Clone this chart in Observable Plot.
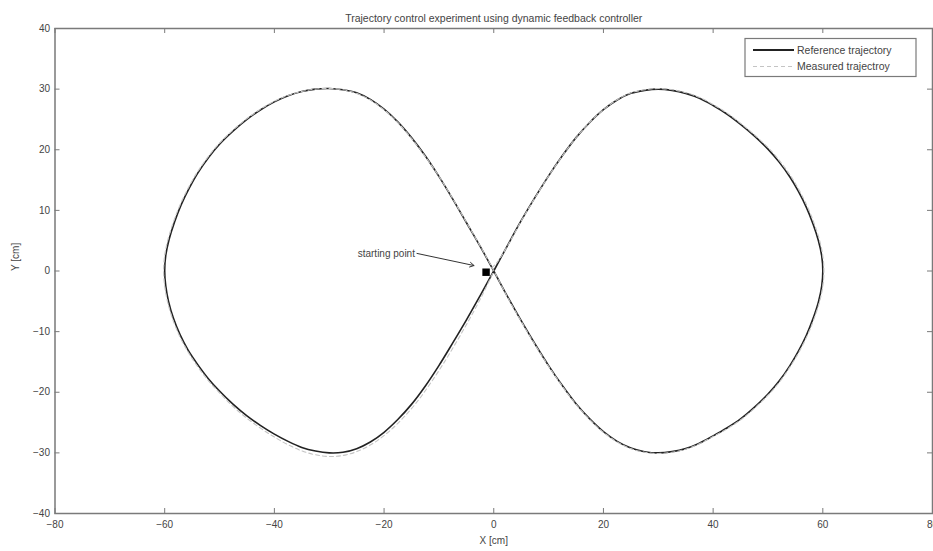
<!DOCTYPE html>
<html>
<head>
<meta charset="utf-8">
<script src="https://cdn.jsdelivr.net/npm/d3@7"></script>
<script src="https://cdn.jsdelivr.net/npm/@observablehq/plot@0.6"></script>
<style>
  html, body { margin: 0; padding: 0; background: #fff; }
  #chart svg { display: block; }
</style>
</head>
<body>
<div id="chart"></div>
<script>
// ---- data ----
const title = "Trajectory control experiment using dynamic feedback controller";
const xLabel = "X [cm]";
const yLabel = "Y [cm]";
const xTicks = [-80, -60, -40, -20, 0, 20, 40, 60, 80];
const yTicks = [-40, -30, -20, -10, 0, 10, 20, 30, 40];
const seriesNames = ["Reference trajectory", "Measured trajectroy"];

// reference trajectory (x, y) in cm, traced along the figure eight
const refX = [
  0, 2.5, 5, 7.5, 10, 12.5, 15, 17.5, 20, 22.5, 25, 27.5, 30,
  32.5, 35, 37.5, 40, 42.5, 45, 47.5, 50, 52, 54, 55.5, 57, 58.2, 59.2, 59.8, 60,
  59.8, 59.2, 58.2, 57, 55.5, 54, 52, 50, 47.5, 45, 42.5, 40, 37.5, 35, 32.5, 30,
  27.5, 25, 22.5, 20, 17.5, 15, 12.5, 10, 7.5, 5, 2.5, 0,
  -2.5, -5, -7.5, -10, -12.5, -15, -17.5, -20, -22.5, -25, -27.5, -30,
  -32.5, -35, -37.5, -40, -42.5, -45, -47.5, -50, -52, -54, -55.5, -57, -58.2, -59.2, -59.8, -60,
  -59.8, -59.3, -58.4, -57.2, -55.7, -54, -52, -50, -47.5, -45, -42.5, -40, -37.5, -35, -32.5, -30,
  -27.5, -25, -22.5, -20, -17.5, -15, -12.5, -10, -7.5, -5, -2.5, 0];
const refY = [
  0, 4.2, 8.3, 12.1, 15.7, 19.0, 22.0, 24.5, 26.6, 28.2, 29.3, 29.8, 30.0,
  29.8, 29.3, 28.5, 27.3, 25.9, 24.2, 22.3, 20.1, 18.0, 15.5, 13.2, 10.5, 7.8, 5.0, 2.5, 0,
  -2.5, -5.1, -7.9, -10.6, -13.3, -15.6, -18.2, -20.3, -22.5, -24.4, -25.9, -27.2, -28.4, -29.3, -29.8, -30.0,
  -29.8, -29.2, -28.1, -26.5, -24.4, -21.9, -18.9, -15.6, -12.0, -8.2, -4.2, 0,
  4.1, 8.0, 11.9, 15.6, 19.0, 22.0, 24.6, 26.7, 28.3, 29.4, 29.9, 30.1,
  30.0, 29.6, 28.9, 27.9, 26.6, 25.0, 23.1, 20.9, 18.7, 16.1, 13.7, 10.9, 8.1, 5.2, 2.6, 0,
  -2.5, -5.0, -7.8, -10.5, -13.1, -15.4, -17.8, -19.8, -22.0, -23.9, -25.5, -26.9, -28.1, -29.1, -29.7, -30.0,
  -29.9, -29.3, -28.2, -26.6, -24.5, -22.0, -19.0, -15.6, -11.9, -8.1, -4.1, 0];

// measured trajectory (x, y) in cm, starting at the marked starting point
const measX = [
  -1.4, 0.4, 2.6, 5.1, 7.6, 10.1, 12.6, 15.1, 17.6, 20.1, 22.6, 25.1, 27.6, 30.1,
  32.6, 35.1, 37.6, 40.1, 42.6, 45.1, 47.6, 50.2, 52.2, 54.2, 55.7, 57.2, 58.4, 59.4, 60.0, 60.2,
  60.0, 59.4, 58.4, 57.2, 55.7, 54.1, 52.1, 50.1, 47.6, 45.1, 42.6, 40.0, 37.5, 35.0, 32.5, 30.0,
  27.5, 25.0, 22.5, 20.0, 17.5, 15.0, 12.5, 10.0, 7.5, 5.0, 2.5, 0.1,
  -2.4, -4.9, -7.4, -9.9, -12.5, -15.0, -17.5, -20.0, -22.5, -25.0, -27.5, -30.0,
  -32.6, -35.1, -37.7, -40.2, -42.7, -45.2, -47.7, -50.2, -52.2, -54.2, -55.7, -57.2, -58.4, -59.4, -60.0, -60.2,
  -60.0, -59.5, -58.6, -57.4, -55.9, -54.2, -52.2, -50.1, -47.6, -45.0, -42.4, -39.8, -37.2, -34.6, -32.0, -29.4,
  -26.8, -24.2, -21.6, -19.0, -16.5, -14.0, -11.6, -9.2, -6.8, -4.4, -2.1, -0.2];
const measY = [
  -0.2, 1.2, 4.3, 8.4, 12.2, 15.8, 19.1, 22.1, 24.6, 26.7, 28.3, 29.4, 29.9, 30.1,
  29.9, 29.4, 28.6, 27.4, 26.0, 24.3, 22.4, 20.2, 18.1, 15.6, 13.3, 10.6, 7.9, 5.1, 2.5, 0,
  -2.5, -5.1, -7.9, -10.6, -13.3, -15.7, -18.3, -20.4, -22.6, -24.5, -26.0, -27.3, -28.5, -29.4, -29.9, -30.1,
  -29.9, -29.3, -28.2, -26.6, -24.5, -22.0, -19.0, -15.7, -12.1, -8.3, -4.3, -0.1,
  4.0, 7.9, 11.8, 15.5, 18.9, 21.9, 24.5, 26.6, 28.2, 29.3, 29.9, 30.1,
  30.0, 29.6, 28.9, 27.9, 26.6, 25.0, 23.1, 20.9, 18.7, 16.1, 13.7, 10.9, 8.1, 5.2, 2.6, 0,
  -2.5, -5.0, -7.8, -10.5, -13.1, -15.5, -17.9, -20.0, -22.3, -24.3, -26.0, -27.5, -28.8, -29.8, -30.4, -30.6,
  -30.3, -29.5, -28.2, -26.4, -24.2, -21.6, -18.6, -15.3, -11.7, -7.9, -4.0, -0.4];

const startPoint = [{x: -1.4, y: -0.2}];
const annotation = [{label: "starting point", x1: -14.0, y1: 2.9, x2: -3.6, y2: 0.9}];

// ---- build tables ----
const reference = refX.map((x, i) => ({x, y: refY[i]}));
const measured = measX.map((x, i) => ({x, y: measY[i]}));

const W = 933, H = 551;
const mL = 54.5, mR = 1, mT = 28, mB = 38;
const plotW = W - mL - mR, plotH = H - mT - mB;
const axisColor = "#7a7a7a";
const textColor = "#444";
const font = "'Liberation Sans', Arial, sans-serif";
const tickLen = 5;

const chart = Plot.plot({
  width: W,
  height: H,
  marginLeft: mL,
  marginRight: mR,
  marginTop: mT,
  marginBottom: mB,
  style: {fontFamily: font, fontSize: "10px", color: textColor, background: "#fff"},
  x: {domain: [-80, 80], label: null},
  y: {domain: [-40, 40], label: null},
  marks: [
    // tick labels
    Plot.axisX(xTicks, {anchor: "bottom", tickSize: 0, tickPadding: 7, fill: textColor, fontSize: 10, label: null}),
    Plot.axisY(yTicks, {anchor: "left", tickSize: 0, tickPadding: 5, fill: textColor, fontSize: 10, label: null}),
    // inward tick marks on all four sides
    Plot.tickX(xTicks, {x: d => d, insetTop: plotH - tickLen, stroke: axisColor}),
    Plot.tickX(xTicks, {x: d => d, insetBottom: plotH - tickLen, stroke: axisColor}),
    Plot.tickY(yTicks, {y: d => d, insetRight: plotW - tickLen, stroke: axisColor}),
    Plot.tickY(yTicks, {y: d => d, insetLeft: plotW - tickLen, stroke: axisColor}),
    // data
    Plot.line(reference, {x: "x", y: "y", stroke: "#222", strokeWidth: 1.6, curve: "catmull-rom"}),
    Plot.line(measured, {x: "x", y: "y", stroke: "#c4c4c4", strokeWidth: 1.1, strokeDasharray: "4,3", curve: "catmull-rom"}),
    Plot.dot(startPoint, {x: "x", y: "y", symbol: "square", r: 4.2, fill: "#000"}),
    Plot.arrow(annotation, {x1: "x1", y1: "y1", x2: "x2", y2: "y2", stroke: "#333", strokeWidth: 1, headLength: 7, bend: false}),
    Plot.text(annotation, {x: "x1", y: "y1", text: "label", textAnchor: "end", dx: -2, fill: textColor, fontSize: 10}),
    // frame
    Plot.frame({stroke: axisColor, strokeWidth: 1.5}),
    // title and axis labels
    Plot.text([title], {frameAnchor: "top", dy: -14, fill: textColor, fontSize: 10.5}),
    Plot.text([xLabel], {frameAnchor: "bottom", dy: 30, fill: textColor, fontSize: 10}),
    Plot.text([yLabel], {frameAnchor: "left", dx: -39, rotate: -90, fill: textColor, fontSize: 10})
  ]
});

document.getElementById("chart").appendChild(chart);

// legend box (top-right, inside the axes)
const svg = d3.select(chart);
const lg = svg.append("g").attr("font-family", font).attr("font-size", 10.5)
  .attr("fill", textColor).attr("text-anchor", "start");
lg.append("rect").attr("x", 745).attr("y", 38.5).attr("width", 171).attr("height", 38)
  .attr("fill", "#fff").attr("stroke", axisColor).attr("stroke-width", 1.2);
const rows = [
  {name: seriesNames[0], stroke: "#222", width: 2, dash: null},
  {name: seriesNames[1], stroke: "#c4c4c4", width: 1.2, dash: "4,3"}
];
rows.forEach((r, i) => {
  const yy = 50 + i * 16.5;
  lg.append("line").attr("x1", 753).attr("x2", 794).attr("y1", yy).attr("y2", yy)
    .attr("stroke", r.stroke).attr("stroke-width", r.width).attr("stroke-dasharray", r.dash);
  lg.append("text").attr("x", 797).attr("y", yy).attr("dy", "0.35em")
    .attr("text-anchor", "start").text(r.name);
});
</script>
</body>
</html>
